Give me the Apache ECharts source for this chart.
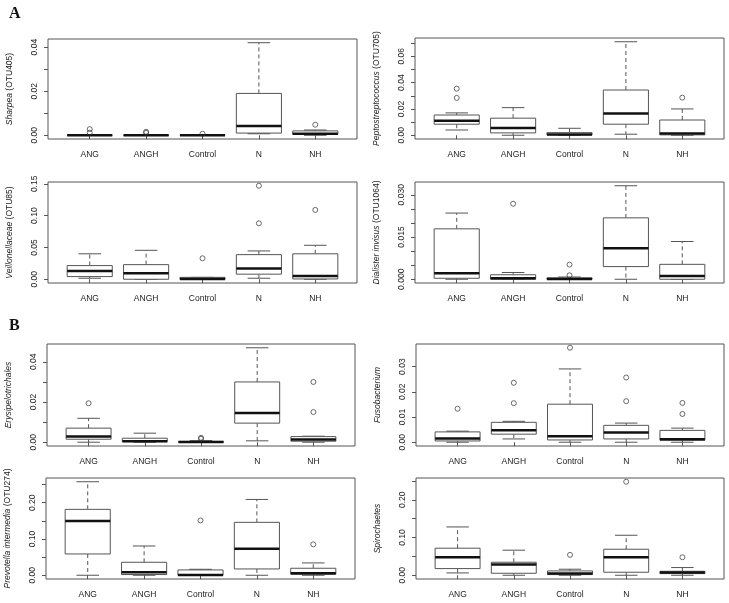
<!DOCTYPE html>
<html><head><meta charset="utf-8">
<script src="https://cdn.jsdelivr.net/npm/echarts@6/dist/echarts.min.js"></script>
<style>html,body{margin:0;padding:0;background:#fff}#c{width:729px;height:603px}</style>
</head><body><div id="c"></div>
<script>
const categories = ['ANG', 'ANGH', 'Control', 'N', 'NH'];

// box stats per group: [min whisker, Q1, median, Q3, max whisker]
const sharpeaStats = [[0,0,0,0,0],[0,0,0,0,0],[0,0,0,0,0],[0.0007,0.001,0.0042,0.019,0.042],[0,0.0004,0.0007,0.002,0.0024]];
const sharpeaOutliers = [[0,0.0028],[0,0.0012],[1,0.0016],[1,0.0011],[2,0.0007],[4,0.0048]];
const sharpeaTicks = [0,0.01,0.02,0.03,0.04];
const sharpeaLabels = ['0.00','0.02','0.04'];

const peptoStats = [[0.004,0.0084,0.011,0.0154,0.017],[0,0.0018,0.0056,0.013,0.021],[0,0.0003,0.0005,0.002,0.0053],[0.0008,0.0084,0.0165,0.0344,0.0711],[0,0.0003,0.0013,0.0116,0.02]];
const peptoOutliers = [[0,0.0284],[0,0.0354],[4,0.0286]];
const peptoTicks = [0,0.01,0.02,0.03,0.04,0.05,0.06,0.07];
const peptoLabels = ['0.00','0.02','0.04','0.06'];

const veilStats = [[0.0016,0.0042,0.013,0.0215,0.040],[0,0,0.0094,0.023,0.0455],[0,0,0.0005,0.003,0.003],[0.0016,0.008,0.0168,0.0387,0.0445],[0,0.0005,0.005,0.040,0.0534]];
const veilOutliers = [[2,0.033],[3,0.088],[3,0.147],[4,0.109]];
const veilTicks = [0,0.05,0.10,0.15];
const veilLabels = ['0.00','0.05','0.10','0.15'];

const dialStats = [[0,0.00035,0.0021,0.0179,0.0235],[0,0,0.0004,0.0016,0.0024],[0,0,0.0001,0.0005,0.0008],[0,0.0045,0.011,0.0218,0.0332],[0,0,0.0012,0.0053,0.0134]];
const dialOutliers = [[1,0.0268],[2,0.0014],[2,0.0052]];
const dialTicks = [0,0.005,0.010,0.015,0.020,0.025,0.030];
const dialLabels = ['0.000','0.015','0.030'];

const erysStats = [[0,0.0015,0.0028,0.007,0.0119],[0,0.0003,0.0005,0.002,0.0045],[0,0,0.0001,0.0004,0.0008],[0.0007,0.0095,0.0146,0.030,0.047],[0,0.0005,0.0013,0.0028,0.003]];
const erysOutliers = [[0,0.0194],[2,0.0017],[2,0.0022],[4,0.015],[4,0.030]];
const erysTicks = [0,0.01,0.02,0.03,0.04];
const erysLabels = ['0.00','0.02','0.04'];

const fusoStats = [[0,0.0005,0.0015,0.0041,0.0044],[0.0013,0.0032,0.0048,0.0079,0.0083],[0,0.0009,0.0024,0.0151,0.0291],[0,0.0013,0.0039,0.0067,0.0076],[0,0.0008,0.0012,0.0047,0.0056]];
const fusoOutliers = [[0,0.0133],[1,0.0155],[1,0.0236],[2,0.0375],[3,0.0163],[3,0.0257],[4,0.0112],[4,0.0156]];
const fusoTicks = [0,0.01,0.02,0.03];
const fusoLabels = ['0.00','0.01','0.02','0.03'];

const prevStats = [[0,0.0587,0.1495,0.1817,0.2578],[0,0.002,0.0083,0.0358,0.0807],[0,0,0.001,0.0147,0.0165],[0,0.0174,0.0734,0.1459,0.209],[0,0.0028,0.0055,0.0193,0.034]];
const prevOutliers = [[2,0.151],[4,0.0853]];
const prevTicks = [0,0.05,0.10,0.15,0.20,0.25];
const prevLabels = ['0.00','0.10','0.20'];

const spiroStats = [[0.0062,0.0177,0.0478,0.0717,0.128],[0,0.0053,0.0283,0.0345,0.0664],[0,0.0018,0.0044,0.0115,0.016],[0,0.008,0.0478,0.069,0.106],[0,0.0044,0.007,0.0106,0.0204]];
const spiroOutliers = [[2,0.054],[3,0.2478],[4,0.0478]];
const spiroTicks = [0,0.05,0.10,0.15,0.20,0.25];
const spiroLabels = ['0.00','0.10','0.20'];

const panelNames = [
  '{i|Sharpea} (OTU405)',
  '{i|Peptostreptococcus} (OTU705)',
  '{i|Veillonellaceae} (OTU85)',
  '{i|Dialister invisus} (OTU1064)',
  '{i|Erysipelotrichales}',
  '{i|Fusobacterium}',
  '{i|Prevotella intermedia} (OTU274)',
  '{i|Spirochaetes}'
];
const panelData = [
  [sharpeaStats, sharpeaOutliers, sharpeaTicks, sharpeaLabels],
  [peptoStats, peptoOutliers, peptoTicks, peptoLabels],
  [veilStats, veilOutliers, veilTicks, veilLabels],
  [dialStats, dialOutliers, dialTicks, dialLabels],
  [erysStats, erysOutliers, erysTicks, erysLabels],
  [fusoStats, fusoOutliers, fusoTicks, fusoLabels],
  [prevStats, prevOutliers, prevTicks, prevLabels],
  [spiroStats, spiroOutliers, spiroTicks, spiroLabels]
];

// layout (pixels)
const gridBoxes = [
  {left:48, top:39, width:309, height:100},
  {left:415, top:38, width:309, height:101},
  {left:48, top:182, width:309, height:101},
  {left:415, top:182, width:309, height:101},
  {left:47, top:344, width:308, height:102},
  {left:416, top:344, width:308, height:102},
  {left:46, top:478, width:309, height:101},
  {left:416, top:478, width:308, height:101}
];

const TXT = '#222', LINE = '#555', FONT = 'Liberation Sans, Arial, sans-serif';

function renderBox(params, api) {
  const x = api.value(0), mn = api.value(1), q1 = api.value(2), md = api.value(3), q3 = api.value(4), mx = api.value(5);
  const c = (a, b) => api.coord([a, b]);
  const seg = (p, q, extra) => ({type:'line', shape:{x1:p[0], y1:p[1], x2:q[0], y2:q[1]},
    style:Object.assign({stroke:LINE, lineWidth:1, fill:null}, extra || {})});
  const children = [];
  children.push(seg(c(x, q3), c(x, mx), {lineDash:[4,3]}));
  children.push(seg(c(x, q1), c(x, mn), {lineDash:[4,3]}));
  children.push(seg(c(x - 0.2, mx), c(x + 0.2, mx)));
  children.push(seg(c(x - 0.2, mn), c(x + 0.2, mn)));
  const a = c(x - 0.4, q3), b = c(x + 0.4, q1);
  children.push({type:'rect', shape:{x:a[0], y:a[1], width:b[0]-a[0], height:b[1]-a[1]},
    style:{fill:'#fff', stroke:LINE, lineWidth:1}});
  children.push(seg(c(x - 0.4, md), c(x + 0.4, md), {stroke:'#111', lineWidth:2.5}));
  return {type:'group', children};
}

const grid = [], xAxis = [], yAxis = [], series = [];
panelData.forEach((pd, k) => {
  const [stats, outl, ticks, labels] = pd;
  const all = [];
  stats.forEach(s => all.push(...s));
  outl.forEach(o => all.push(o[1]));
  const dmin = Math.min(...all), dmax = Math.max(...all);
  const ext = 0.04 * (dmax - dmin);
  grid.push(Object.assign({show:true, borderColor:LINE, borderWidth:1, backgroundColor:'transparent', containLabel:false}, gridBoxes[k]));
  xAxis.push({
    type:'value', gridIndex:k, min:0.26, max:5.74,
    axisLine:{show:false}, splitLine:{show:false},
    axisTick:{show:true, length:4, lineStyle:{color:LINE}, customValues:[1,2,3,4,5]},
    axisLabel:{customValues:[1,2,3,4,5], margin:11, fontSize:8.5, color:TXT, fontFamily:FONT,
      formatter: v => categories[Math.round(v) - 1] || ''}
  });
  yAxis.push({
    type:'value', gridIndex:k, min:dmin - ext, max:dmax + ext,
    axisLine:{show:false}, splitLine:{show:false},
    axisTick:{show:true, length:4, lineStyle:{color:LINE}, customValues:ticks},
    axisLabel:{customValues:labels.map(Number), rotate:90, margin:9, fontSize:8.5, color:TXT, fontFamily:FONT,
      formatter: v => { const s = labels.find(t => Math.abs(Number(t) - v) < 1e-9); return s || ''; }},
    name: panelNames[k], nameLocation:'middle', nameRotate:90, nameGap:34,
    nameTextStyle:{fontSize:8.5, color:TXT, fontFamily:FONT, rich:{i:{fontStyle:'italic', fontSize:8.5, color:TXT, fontFamily:FONT}}}
  });
  series.push({
    type:'custom', xAxisIndex:k, yAxisIndex:k, renderItem:renderBox, clip:false,
    encode:{x:0, y:[1,2,3,4,5]},
    data: stats.map((s, i) => [i + 1].concat(s)), silent:true, animation:false
  });
  series.push({
    type:'scatter', xAxisIndex:k, yAxisIndex:k, symbol:'circle', symbolSize:5,
    itemStyle:{color:'rgba(0,0,0,0)', borderColor:'#333', borderWidth:0.9},
    data: outl.map(o => [o[0] + 1, o[1]]), silent:true, animation:false
  });
});

const chart = echarts.init(document.getElementById('c'));
chart.setOption({
  animation:false,
  backgroundColor:'#fff',
  grid, xAxis, yAxis, series,
  graphic:[
    {type:'text', left:9, top:6, style:{text:'A', font:'bold 16px "Liberation Serif", "Times New Roman", serif', fill:'#111'}},
    {type:'text', left:9, top:318, style:{text:'B', font:'bold 16px "Liberation Serif", "Times New Roman", serif', fill:'#111'}}
  ]
});
</script>
</body></html>
